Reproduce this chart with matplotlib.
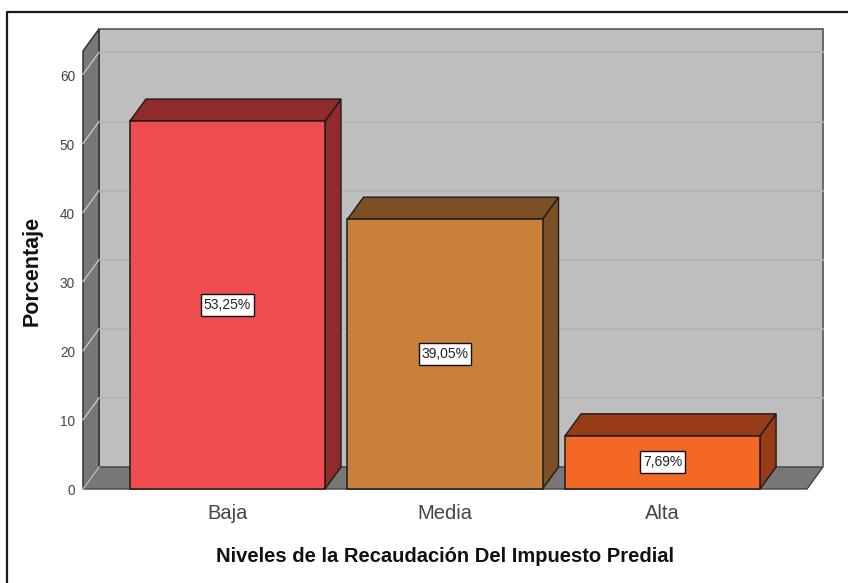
import matplotlib
matplotlib.use("Agg")
import matplotlib.pyplot as plt
from matplotlib.patches import Polygon, Rectangle
from matplotlib.lines import Line2D
from matplotlib.transforms import IdentityTransform

plt.rcParams['font.family'] = ['Liberation Sans', 'DejaVu Sans']

categories = ["Baja", "Media", "Alta"]
values = [53.25, 39.05, 7.69]
value_labels = ["53,25%", "39,05%", "7,69%"]
y_ticks = [0, 10, 20, 30, 40, 50, 60]
front_colors = ["#EE4C4E", "#C8803A", "#F46826"]
top_colors = ["#8F2B2C", "#7A5024", "#983C18"]
side_colors = ["#8F2B2C", "#7A5024", "#983C18"]
x_title = "Niveles de la Recaudación Del Impuesto Predial"
y_title = "Porcentaje"

W, H = 848, 583
fig = plt.figure(figsize=(W / 100, H / 100), dpi=100, facecolor="white")
L, R, T, B = 83, 807, 51, 489
ax = fig.add_axes([L / W, 1 - B / H, (R - L) / W, (B - T) / H])
ax.set_xlim(-0.664, 2.664)
ax.set_ylim(0, (B - T) / 6.91)
ax.axis("off")
xmin, xmax = ax.get_xlim()
ymin, ymax = ax.get_ylim()
dx = 16 / 217.5
dy = 22 / 6.91
w = 195 / 217.5
edge = "#1c1c1c"
renderer = fig.canvas.get_renderer()


def poly(pts, fc, ec=edge, lw=1.0, z=1):
    ax.add_patch(Polygon(pts, closed=True, fc=fc, ec=ec, lw=lw, zorder=z, clip_on=False))


# back wall, left wall, floor
poly([(xmin + dx, ymin + dy), (xmax + dx, ymin + dy), (xmax + dx, ymax + dy), (xmin + dx, ymax + dy)],
     "#BEBEBE", ec="#555555", lw=1.2, z=1)
poly([(xmin, ymin), (xmin + dx, ymin + dy), (xmin + dx, ymax + dy), (xmin, ymax)],
     "#777777", ec="#333333", lw=1.1, z=2)
poly([(xmin, ymin), (xmax, ymin), (xmax + dx, ymin + dy), (xmin + dx, ymin + dy)],
     "#777777", ec="#444444", lw=1.0, z=2)

# gridlines on walls
for t in y_ticks:
    ax.plot([xmin + dx, xmax + dx], [t + dy, t + dy], color="#B2B2B2", lw=1.2, zorder=1.5, clip_on=False)
    ax.plot([xmin, xmin + dx], [t, t + dy], color="#C4C4C4", lw=1.0, zorder=3, clip_on=False)

# bars
for i, (v, fc, tc, sc, lab) in enumerate(zip(values, front_colors, top_colors, side_colors, value_labels)):
    x0, x1 = i - w / 2, i + w / 2
    poly([(x1, 0), (x1 + dx, dy), (x1 + dx, v + dy), (x1, v)], sc, z=4 + i)
    poly([(x0, v), (x1, v), (x1 + dx, v + dy), (x0 + dx, v + dy)], tc, z=4 + i)
    ax.add_patch(Rectangle((x0, 0), w, v, fc=fc, ec=edge, lw=1.1, zorder=4.5 + i, clip_on=False))
    txt = ax.text(i, v / 2, lab, ha="center", va="center", fontsize=10, color="#222222", zorder=10)
    bb = txt.get_window_extent(renderer)
    cx, cy = (bb.x0 + bb.x1) / 2, (bb.y0 + bb.y1) / 2
    bw, bh = bb.width + 5, 22
    ax.add_patch(Rectangle((cx - bw / 2, cy - bh / 2), bw, bh, transform=IdentityTransform(),
                           fc="white", ec="#111111", lw=1.0, zorder=9, clip_on=False))
    ax.text(i, -3.5, categories[i], ha="center", va="center", fontsize=14.5, color="#444444", clip_on=False)

# y tick labels
for t in y_ticks:
    ax.text(-0.664 - 8 / 217.5, t - 0.35, str(t), ha="right", va="center", fontsize=9.8,
            color="#444444", clip_on=False)

fig.text(445 / W, 1 - 557 / H, x_title, ha="center", va="center", fontsize=14.5,
         fontweight="bold", color="#111111")
fig.text(32 / W, 1 - 271 / H, y_title, ha="center", va="center", rotation=90, fontsize=15.5,
         fontweight="bold", color="#111111")

# outer image frame
fig.add_artist(Line2D([6.5 / W, 6.5 / W, 1], [0, 1 - 11.5 / H, 1 - 11.5 / H],
                      transform=fig.transFigure, color="#1a1a1a", lw=1.6))

fig.savefig("out.png", dpi=100, facecolor="white")
